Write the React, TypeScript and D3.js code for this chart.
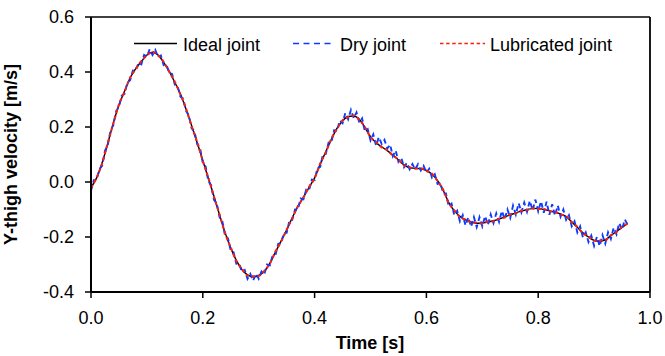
import React from "react";
import * as d3 from "d3";

const W = 665;
const H = 356;

// Ideal joint, sampled every 0.01 s
const idealTime = d3.range(0, 0.9601, 0.01).map((t) => +t.toFixed(3));
const idealValues = [
  -0.02, 0.015, 0.07, 0.14, 0.215, 0.28, 0.33, 0.378, 0.412, 0.438,
  0.462, 0.472, 0.462, 0.435, 0.402, 0.362, 0.32, 0.265, 0.205, 0.143,
  0.078, 0.013, -0.052, -0.12, -0.185, -0.24, -0.285, -0.318, -0.338, -0.345,
  -0.34, -0.325, -0.295, -0.255, -0.215, -0.175, -0.13, -0.09, -0.055, -0.02,
  0.015, 0.065, 0.11, 0.155, 0.195, 0.222, 0.238, 0.24, 0.228, 0.198,
  0.165, 0.143, 0.128, 0.114, 0.098, 0.08, 0.062, 0.052, 0.05, 0.048,
  0.042, 0.028, 0.005, -0.03, -0.075, -0.105, -0.125, -0.138, -0.145, -0.15,
  -0.149, -0.146, -0.141, -0.135, -0.127, -0.12, -0.112, -0.106, -0.1, -0.097,
  -0.096, -0.1, -0.105, -0.11, -0.116, -0.126, -0.145, -0.165, -0.185, -0.2,
  -0.212, -0.215, -0.21, -0.195, -0.18, -0.165, -0.15,
];

// Lubricated joint, sampled every 0.01 s
const lubricatedValues = [
  -0.022, 0.016, 0.068, 0.142, 0.213, 0.282, 0.328, 0.38, 0.41, 0.44,
  0.46, 0.474, 0.46, 0.437, 0.4, 0.364, 0.318, 0.267, 0.203, 0.145,
  0.076, 0.015, -0.054, -0.118, -0.187, -0.238, -0.287, -0.316, -0.34, -0.343,
  -0.342, -0.323, -0.297, -0.253, -0.217, -0.173, -0.132, -0.088, -0.057, -0.018,
  0.013, 0.067, 0.108, 0.157, 0.193, 0.224, 0.236, 0.242, 0.226, 0.2,
  0.163, 0.145, 0.126, 0.116, 0.096, 0.082, 0.06, 0.054, 0.048, 0.05,
  0.04, 0.03, 0.003, -0.028, -0.077, -0.103, -0.127, -0.136, -0.147, -0.148,
  -0.151, -0.144, -0.143, -0.133, -0.129, -0.118, -0.114, -0.104, -0.102, -0.095,
  -0.098, -0.098, -0.107, -0.108, -0.118, -0.124, -0.147, -0.163, -0.187, -0.198,
  -0.214, -0.213, -0.212, -0.193, -0.182, -0.163, -0.152,
];

// Dry joint, sampled every 0.005 s
const dryTime = d3.range(0, 0.9601, 0.005).map((t) => +t.toFixed(4));
const dryValues = [
  -0.032, 0.007, 0.007, 0.046, 0.06, 0.113, 0.134, 0.188, 0.207, 0.258,
  0.274, 0.314, 0.32, 0.361, 0.37, 0.406, 0.406, 0.433, 0.428, 0.462,
  0.456, 0.483, 0.462, 0.48, 0.454, 0.46, 0.425, 0.427, 0.396, 0.393,
  0.354, 0.348, 0.31, 0.303, 0.259, 0.243, 0.195, 0.185, 0.137, 0.124,
  0.07, 0.057, 0.003, -0.012, -0.065, -0.078, -0.128, -0.143, -0.197, -0.205,
  -0.25, -0.255, -0.297, -0.296, -0.328, -0.32, -0.352, -0.334, -0.359, -0.333,
  -0.352, -0.325, -0.335, -0.3, -0.303, -0.267, -0.265, -0.225, -0.223, -0.185,
  -0.185, -0.14, -0.138, -0.1, -0.1, -0.06, -0.063, -0.028, -0.03, 0.009,
  0.007, 0.05, 0.055, 0.1, 0.102, 0.143, 0.145, 0.188, 0.185, 0.224,
  0.214, 0.251, 0.228, 0.262, 0.232, 0.253, 0.216, 0.231, 0.184, 0.192,
  0.151, 0.173, 0.133, 0.163, 0.138, 0.153, 0.122, 0.136, 0.094, 0.115,
  0.074, 0.089, 0.054, 0.07, 0.046, 0.065, 0.046, 0.065, 0.042, 0.059,
  0.034, 0.048, 0.016, 0.028, -0.007, -0.002, -0.042, -0.042, -0.089, -0.079,
  -0.121, -0.105, -0.143, -0.12, -0.158, -0.128, -0.163, -0.128, -0.164, -0.128,
  -0.161, -0.124, -0.156, -0.118, -0.149, -0.114, -0.145, -0.105, -0.135, -0.1,
  -0.13, -0.086, -0.118, -0.077, -0.11, -0.075, -0.108, -0.068, -0.103, -0.064,
  -0.106, -0.07, -0.112, -0.072, -0.119, -0.081, -0.122, -0.085, -0.126, -0.1,
  -0.138, -0.121, -0.161, -0.143, -0.183, -0.161, -0.201, -0.183, -0.218, -0.195,
  -0.232, -0.2, -0.233, -0.193, -0.224, -0.183, -0.207, -0.166, -0.19, -0.149,
  -0.173, -0.136, -0.156,
];

const xTicks = [0, 0.2, 0.4, 0.6, 0.8, 1.0];
const yTicks = [-0.4, -0.2, 0, 0.2, 0.4, 0.6];

const seriesNames = ["Ideal joint", "Dry joint", "Lubricated joint"];

const FONT = "'Liberation Sans', Arial, sans-serif";

export default function App() {
  const left = 91;
  const right = 650;
  const top = 17;
  const bottom = 292;

  const x = d3.scaleLinear().domain([0, 1]).range([left, right]);
  const y = d3.scaleLinear().domain([-0.4, 0.6]).range([bottom, top]);

  const line = d3
    .line<[number, number]>()
    .x((d) => x(d[0]))
    .y((d) => y(d[1]))
    .curve(d3.curveMonotoneX);

  const idealPath = line(idealTime.map((t, i) => [t, idealValues[i]]) as [number, number][]) || "";
  const lubPath = line(idealTime.map((t, i) => [t, lubricatedValues[i]]) as [number, number][]) || "";
  const dryLine = d3
    .line<[number, number]>()
    .x((d) => x(d[0]))
    .y((d) => y(d[1]));
  const dryPath = dryLine(dryTime.map((t, i) => [t, dryValues[i]]) as [number, number][]) || "";

  const blue = "#0a3cff";
  const red = "#ff1e0a";

  const legend = [
    { x1: 134, x2: 177, tx: 183, color: "#000", dash: "none", w: 1.5 },
    { x1: 293, x2: 335, tx: 340, color: blue, dash: "6,4.5", w: 1.6 },
    { x1: 440, x2: 485, tx: 490, color: red, dash: "3.5,2.6", w: 1.6 },
  ];

  return (
    <svg width={W} height={H} style={{ position: "absolute", left: 0, top: 0, background: "#fff" }}>
      <rect x={0} y={0} width={W} height={H} fill="#fff" />
      {/* data */}
      <path d={idealPath} fill="none" stroke="#000" strokeWidth={1.4} />
      <path d={dryPath} fill="none" stroke={blue} strokeWidth={1.9} strokeDasharray="5,3.5" />
      <path d={lubPath} fill="none" stroke={red} strokeWidth={2} strokeDasharray="3.5,2.6" />

      {/* frame */}
      <line x1={left} x2={right} y1={top} y2={top} stroke="#000" strokeWidth={1.5} />
      <line x1={right} x2={right} y1={top} y2={bottom} stroke="#000" strokeWidth={1.8} />
      <line x1={left} x2={left} y1={top} y2={bottom} stroke="#000" strokeWidth={2} />
      <line x1={left} x2={right} y1={bottom} y2={bottom} stroke="#000" strokeWidth={2} />

      {/* y ticks */}
      {yTicks.map((v) => (
        <g key={"y" + v}>
          <line x1={left - 6} x2={left} y1={y(v)} y2={y(v)} stroke="#000" strokeWidth={1.5} />
          <text x={74} y={y(v) + 6.3} textAnchor="end" fontFamily={FONT} fontSize={18} fill="#000">
            {v.toFixed(1)}
          </text>
        </g>
      ))}
      {/* x ticks */}
      {xTicks.map((v) => (
        <g key={"x" + v}>
          <line x1={x(v)} x2={x(v)} y1={bottom} y2={bottom + 6} stroke="#000" strokeWidth={1.5} />
          <text x={x(v)} y={324} textAnchor="middle" fontFamily={FONT} fontSize={18} fill="#000">
            {v.toFixed(1)}
          </text>
        </g>
      ))}

      {/* axis titles */}
      <text x={370} y={348.5} textAnchor="middle" fontFamily={FONT} fontSize={18} fontWeight="bold" fill="#000">
        Time [s]
      </text>
      <text
        transform={`translate(17, ${(top + bottom) / 2}) rotate(-90)`}
        textAnchor="middle"
        fontFamily={FONT}
        fontSize={18}
        fontWeight="bold"
        fill="#000"
      >
        Y-thigh velocity [m/s]
      </text>

      {/* legend */}
      {legend.map((l, i) => (
        <g key={"l" + i}>
          <line x1={l.x1} x2={l.x2} y1={43.5} y2={43.5} stroke={l.color} strokeWidth={l.w} strokeDasharray={l.dash} />
          <text x={l.tx} y={51} fontFamily={FONT} fontSize={18} fill="#000">
            {seriesNames[i]}
          </text>
        </g>
      ))}
    </svg>
  );
}
